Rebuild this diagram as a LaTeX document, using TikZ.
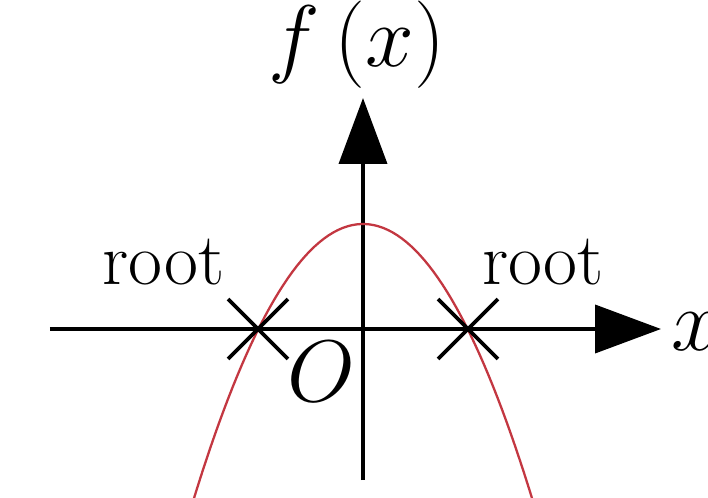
\documentclass[tikz,border=0pt]{standalone}
\usepackage{amsmath}
\usepackage{xcolor}
\usepackage{tikz}
\usetikzlibrary{arrows.meta, positioning, calc, shapes.misc}
\definecolor{curvered}{RGB}{195, 55, 65}

\begin{document}
\begin{tikzpicture}[
    axis/.style={line width=1.1pt, black, -{Triangle[length=0.66cm, width=0.48cm]}},
    curve/.style={line width=0.65pt, curvered},
    rootmark/.style={cross out, draw=black, line width=1.1pt,
                     minimum size=0.56cm, inner sep=0pt},
    lbl/.style={font=\fontsize{21}{25}\selectfont, inner sep=0pt},
    mlbl/.style={font=\fontsize{23}{27}\selectfont, inner sep=0pt}
]
\clip (-3.63,-1.68) rectangle (3.45,3.29);

% axes
\coordinate (origin) at (0,0);
\coordinate (xstart) at (-3.13,0);
\coordinate (xend)   at (2.98,0);
\coordinate (ystart) at (0,-1.51);
\coordinate (yend)   at (0,2.31);
\draw[axis] (xstart) -- (xend);
\draw[axis] (ystart) -- (yend);

% curve
\draw[curve] plot[domain=-1.8:1.8, samples=80] (\x, {1.05-0.96*\x*\x});

% roots
\node[rootmark] (rootL) at (-1.05,0) {};
\node[rootmark] (rootR) at (1.05,0) {};

% labels
\node[lbl, anchor=base] (rootLlbl) at (-1.995,0.44) {root};
\node[lbl, anchor=base] (rootRlbl) at (1.80,0.44) {root};
\node[mlbl] (olbl) at (-0.415,-0.425) {$O$};
\node[mlbl, anchor=base] (fxlbl) at (-0.06,2.62) {$f\,(x)$};
\node[mlbl, anchor=base west] (xlbl) at (3.08,-0.21) {$x$};

\end{tikzpicture}
\end{document}
